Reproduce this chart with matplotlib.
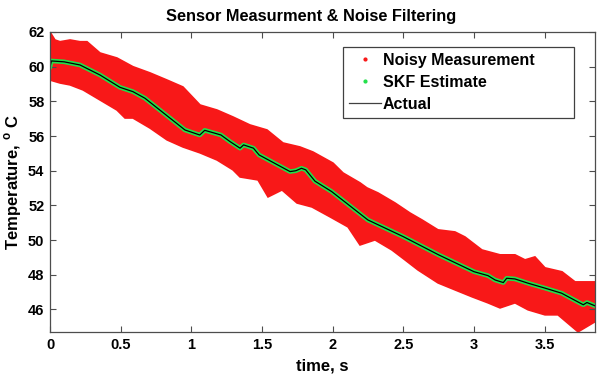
import numpy as np
import matplotlib.pyplot as plt
from matplotlib.lines import Line2D

plt.rcParams['font.family'] = ['Liberation Sans', 'DejaVu Sans']
plt.rcParams['font.weight'] = 'bold'
plt.rcParams['mathtext.fontset'] = 'custom'
plt.rcParams['mathtext.rm'] = 'Liberation Sans:bold'
plt.rcParams['mathtext.bf'] = 'Liberation Sans:bold'

# upper edge of the noisy measurement cloud
upper_t = [0.00, 0.035, 0.071, 0.142, 0.212, 0.262, 0.354, 0.474, 0.587, 0.708,
           0.828, 0.941, 1.062, 1.182, 1.295, 1.415, 1.536, 1.649, 1.769, 1.861,
           2.003, 2.074, 2.194, 2.243, 2.321, 2.442, 2.548, 2.633, 2.746, 2.866,
           2.937, 3.057, 3.185, 3.291, 3.362, 3.432, 3.503, 3.624, 3.716, 3.786, 3.857]
upper_T = [62.00, 61.54, 61.44, 61.54, 61.44, 61.44, 60.79, 60.50, 60.00, 59.64,
           59.23, 58.83, 57.79, 57.50, 57.10, 56.64, 56.35, 55.60, 55.37, 55.08,
           54.44, 53.87, 53.30, 53.01, 52.72, 52.14, 51.56, 51.16, 50.59, 50.47,
           50.18, 49.43, 49.15, 49.15, 48.86, 49.03, 48.40, 48.17, 47.59, 47.59, 47.59]

# lower edge of the noisy measurement cloud
lower_t = [0.00, 0.071, 0.142, 0.234, 0.354, 0.474, 0.531, 0.587, 0.708, 0.828,
           0.941, 1.062, 1.182, 1.295, 1.345, 1.472, 1.543, 1.642, 1.748, 1.854,
           1.982, 2.109, 2.194, 2.300, 2.420, 2.512, 2.604, 2.746, 2.866, 2.987,
           3.100, 3.185, 3.291, 3.383, 3.503, 3.595, 3.737, 3.857]
lower_T = [59.23, 59.06, 58.95, 58.66, 58.08, 57.50, 57.04, 57.04, 56.46, 55.78,
           55.37, 55.03, 54.62, 54.05, 53.64, 53.47, 52.49, 52.89, 52.14, 51.91,
           51.34, 50.76, 49.72, 50.01, 49.43, 48.86, 48.28, 47.53, 47.13, 46.73,
           46.38, 46.09, 46.38, 45.98, 45.69, 45.69, 44.71, 45.29]

# filter estimate (actual temperature lies on top of it)
est_t = [0.000, 0.010, 0.100, 0.212, 0.354, 0.495, 0.587, 0.672, 0.955, 1.060,
         1.095, 1.168, 1.210, 1.274, 1.345, 1.370, 1.440, 1.480, 1.699, 1.740,
         1.780, 1.810, 1.875, 1.993, 2.250, 2.500, 2.750, 3.000, 3.100, 3.150,
         3.208, 3.232, 3.290, 3.385, 3.503, 3.620, 3.774, 3.800, 3.857]
est_T = [60.00, 60.33, 60.28, 60.10, 59.52, 58.81, 58.56, 58.18, 56.35, 56.06,
         56.33, 56.16, 56.06, 55.68, 55.30, 55.49, 55.30, 54.91, 53.95, 54.00,
         54.14, 54.05, 53.40, 52.80, 51.16, 50.20, 49.15, 48.18, 47.95, 47.70,
         47.55, 47.80, 47.76, 47.51, 47.23, 46.94, 46.27, 46.40, 46.21]
actual_T = est_T

red = '#f81818'
green = '#22e04a'

fig = plt.figure(figsize=(5.97, 3.75), dpi=100)
ax = fig.add_axes([50 / 597, 1 - 332 / 375, 545 / 597, 300 / 375])

band_x = np.concatenate([upper_t, lower_t[::-1]])
band_y = np.concatenate([upper_T, lower_T[::-1]])
ax.fill(band_x, band_y, color=red, lw=1.2, ec=red)
ax.plot(est_t, est_T, color=green, lw=3.3, solid_joinstyle='round')
ax.plot(est_t, actual_T, color='black', lw=0.9)

ax.set_xlim(0, 3.857)
ax.set_ylim(44.7, 62)
ax.set_xticks([0, 0.5, 1, 1.5, 2, 2.5, 3, 3.5])
ax.set_xticklabels(['0', '0.5', '1', '1.5', '2', '2.5', '3', '3.5'])
ax.set_yticks(np.arange(46, 63, 2))
ax.tick_params(direction='in', top=True, right=True, length=4, width=0.8,
               labelsize=10.5, color='0.3', pad=4)
for s in ax.spines.values():
    s.set_color('0.3')
    s.set_linewidth(0.9)

ax.set_title('Sensor Measurment & Noise Filtering', fontsize=11.8, fontweight='bold',
             pad=8, x=0.48)
ax.set_xlabel('time, s', fontsize=12, fontweight='bold', labelpad=5)
ax.set_ylabel(r'Temperature, $^{\mathbf{o}}$ C', fontsize=12, fontweight='bold', labelpad=3)

handles = [Line2D([], [], ls='none', marker='.', color=red, markersize=4),
           Line2D([], [], ls='none', marker='.', color=green, markersize=4),
           Line2D([], [], color='0.25', lw=0.9)]
leg = ax.legend(handles, ['Noisy Measurement', 'SKF Estimate', 'Actual'],
                loc='upper left', bbox_to_anchor=(0.537, 0.73, 0.424, 0.221),
                mode='expand', borderaxespad=0, fancybox=False, framealpha=1,
                edgecolor='0.25', prop={'size': 11.5, 'weight': 'bold'},
                handlelength=2.0, handletextpad=0.1, labelspacing=0.42,
                borderpad=0.4)
leg.get_frame().set_linewidth(0.9)

fig.savefig('out.png', dpi=100)
